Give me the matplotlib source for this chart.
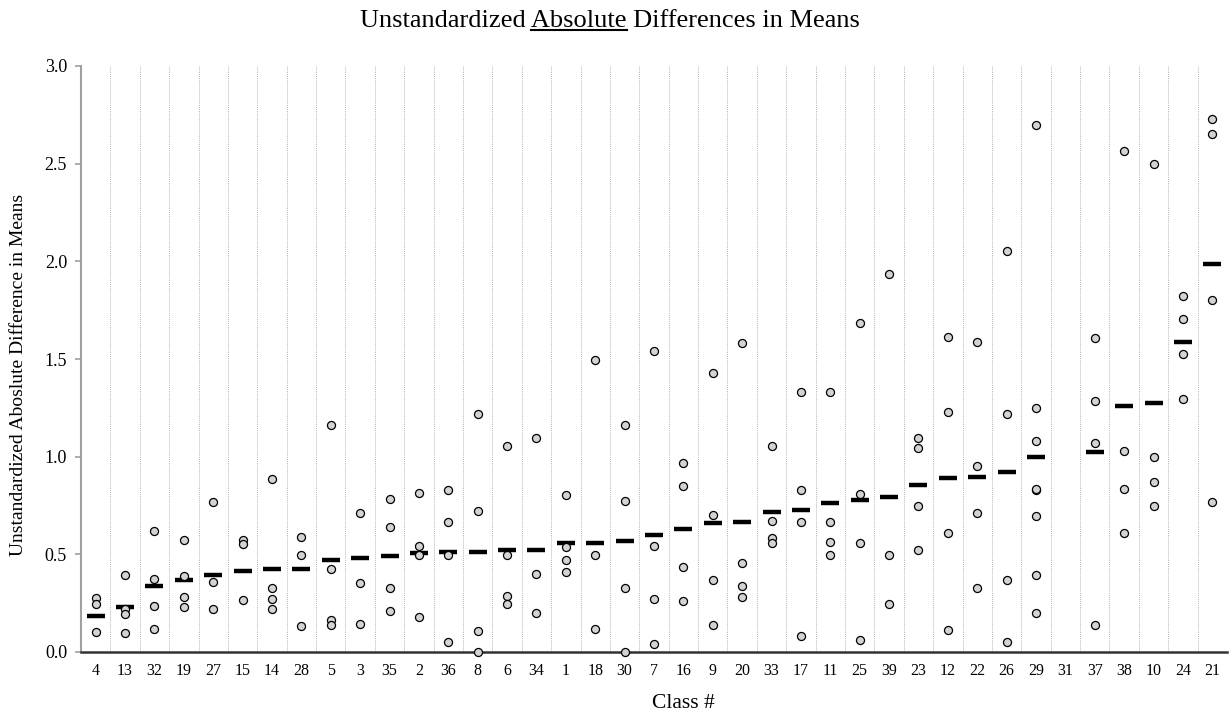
import numpy as np
import matplotlib.pyplot as plt
from matplotlib.lines import Line2D

plt.rcParams['font.family'] = ['Liberation Serif', 'DejaVu Serif']

# class labels in plotted order (sorted by mean)
classes = ['4', '13', '32', '19', '27', '15', '14', '28', '5', '3', '35', '2', '36',
           '8', '6', '34', '1', '18', '30', '7', '16', '9', '20', '33', '17', '11',
           '25', '39', '23', '12', '22', '26', '29', '31', '37', '38', '10', '24', '21']

means = [0.184, 0.228, 0.339, 0.369, 0.393, 0.413, 0.425, 0.427, 0.473, 0.479,
         0.491, 0.509, 0.511, 0.511, 0.523, 0.523, 0.557, 0.559, 0.567, 0.599,
         0.629, 0.659, 0.667, 0.717, 0.725, 0.764, 0.778, 0.794, 0.854, 0.890,
         0.894, 0.924, 0.996, None, 1.024, 1.259, 1.277, 1.587, 1.988]

points = [
    [0.279, 0.245, 0.104],
    [0.395, 0.220, 0.196, 0.096],
    [0.621, 0.375, 0.236, 0.120],
    [0.575, 0.387, 0.283, 0.232],
    [0.768, 0.359, 0.222],
    [0.575, 0.555, 0.265],
    [0.886, 0.327, 0.273, 0.218],
    [0.587, 0.495, 0.132],
    [1.164, 0.423, 0.164, 0.138],
    [0.711, 0.353, 0.142],
    [0.782, 0.641, 0.329, 0.210],
    [0.814, 0.541, 0.497, 0.180],
    [0.830, 0.665, 0.495, 0.052],
    [1.220, 0.721, 0.108, 0.000],
    [1.054, 0.497, 0.289, 0.247],
    [1.098, 0.397, 0.200],
    [0.802, 0.537, 0.473, 0.407],
    [1.497, 0.497, 0.120],
    [1.164, 0.774, 0.329, 0.000],
    [1.541, 0.541, 0.269, 0.042],
    [0.968, 0.848, 0.433, 0.261],
    [1.429, 0.699, 0.371, 0.140],
    [1.583, 0.457, 0.339, 0.281],
    [1.056, 0.673, 0.585, 0.557],
    [1.329, 0.830, 0.665, 0.082],
    [1.329, 0.665, 0.565, 0.497],
    [1.685, 0.810, 0.559, 0.060],
    [1.934, 0.497, 0.247],
    [1.098, 1.046, 0.747, 0.523],
    [1.613, 1.228, 0.611, 0.112],
    [1.589, 0.952, 0.711, 0.329],
    [2.054, 1.220, 0.371, 0.052],
    [2.699, 1.248, 1.080, 0.830, 0.834, 0.697, 0.395, 0.198],
    [],
    [1.605, 1.283, 1.068, 0.140],
    [2.565, 1.030, 0.834, 0.609],
    [2.497, 0.996, 0.872, 0.747],
    [1.820, 1.703, 1.525, 1.297],
    [2.729, 2.651, 1.804, 0.766],
]

W, H = 1229, 714
fig = plt.figure(figsize=(W / 100, H / 100), dpi=100)
ax = fig.add_axes([81 / W, 1 - 652 / H, 1146 / W, 586 / H])

x = np.arange(len(classes))
for i in x:
    if means[i] is not None:
        ax.plot(i, means[i], marker='_', markersize=13, markeredgewidth=3.2,
                color='black', zorder=3)
    if points[i]:
        ax.plot([i] * len(points[i]), points[i], 'o', markersize=5.8,
                markerfacecolor='#d3d3d3', markeredgecolor='black',
                markeredgewidth=0.9, zorder=4, clip_on=False)

for b in np.arange(0.5, len(classes) - 0.5, 1):
    ax.axvline(b, color='#b8b8b8', linestyle=(0, (1, 1)), linewidth=0.7, zorder=1)

ax.set_xlim(-0.5, len(classes) - 0.5)
ax.set_ylim(0, 3.0)
ax.set_xticks(x)
ax.set_xticklabels(classes, fontsize=11.5)
yt = np.arange(0, 3.01, 0.5)
ax.set_yticks(yt)
ax.set_yticklabels(['{:.1f}'.format(v) for v in yt], fontsize=13)
ax.tick_params(axis='x', length=0, pad=8)
ax.tick_params(axis='y', length=4, color='#a0a0a0', width=1.2, pad=6)

ax.spines['top'].set_visible(False)
ax.spines['right'].set_visible(False)
ax.spines['left'].set_color('#a0a0a0')
ax.spines['left'].set_linewidth(1.5)
ax.spines['bottom'].set_color('#333333')
ax.spines['bottom'].set_linewidth(1.8)

ax.set_xlabel('Class #', fontsize=15.5)
ax.xaxis.set_label_coords(0.526, -0.072)
ax.set_ylabel('Unstandardized Aboslute Difference in Means', fontsize=14)
ax.yaxis.set_label_coords(-0.047, 0.473)

# title with the word "Absolute" underlined
title_fs = 19
t = fig.text(610 / W, 1 - 21 / H, 'Unstandardized Absolute Differences in Means',
             ha='center', va='center', fontsize=title_fs)
r = fig.canvas.get_renderer()
full = t.get_window_extent(r)
probe = fig.text(0, 0, 'Unstandardized Absolute', fontsize=title_fs)
w_pre = probe.get_window_extent(r).width
probe.set_text('Absolute')
w_word = probe.get_window_extent(r).width
probe.remove()
x1 = full.x0 + w_pre
x0 = x1 - w_word
uy = full.y0 + 2
fig.add_artist(Line2D([x0 / W, x1 / W], [uy / H, uy / H], color='black', linewidth=1.5))

fig.savefig('out.png', dpi=100)
